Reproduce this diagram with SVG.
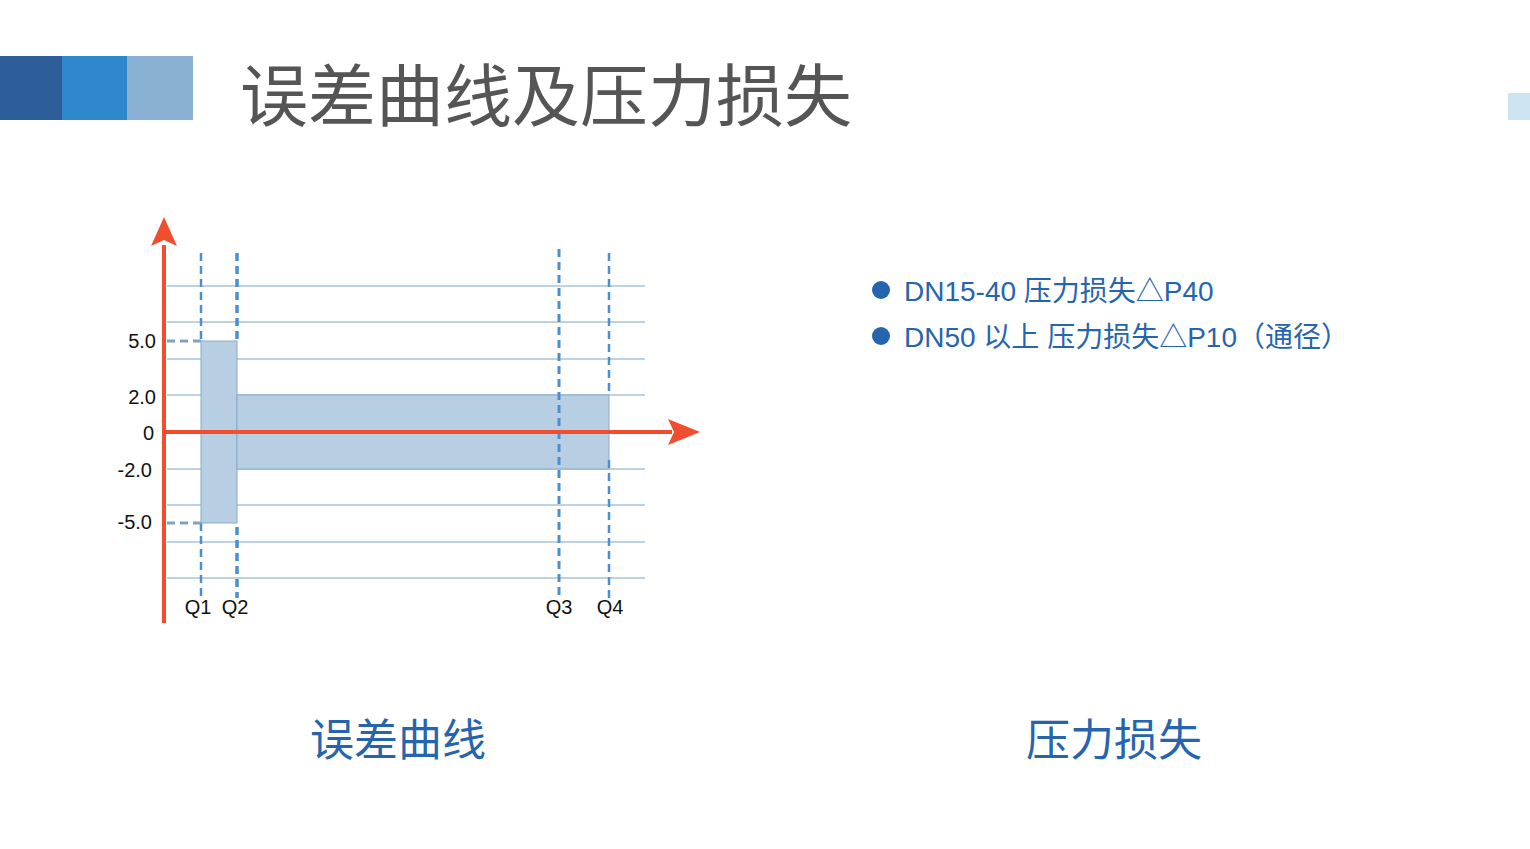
<svg xmlns="http://www.w3.org/2000/svg" width="1530" height="849" viewBox="0 0 1530 849">
<style>
.cjk{font-family:"Liberation Sans","Noto Sans CJK SC",sans-serif}
.ax{font-family:"Liberation Sans",Arial,sans-serif;font-size:20px;fill:#111}
.grid{stroke:#7fa3c8;stroke-width:1}
.dash{stroke:#4a8fd0;stroke-width:2.5;stroke-dasharray:8 5;fill:none}
.blue{fill:#2665ad}
</style>
<rect width="1530" height="849" fill="#fff"/>
<g id="header">
<rect x="0" y="56" width="62" height="64" fill="#2d5d99"/>
<rect x="62" y="56" width="65" height="64" fill="#2f88cc"/>
<rect x="127" y="56" width="66" height="64" fill="#8ab0d4"/>
<rect x="1508" y="93" width="22" height="27" fill="#cde5f3"/>
<text x="240" y="121" class="cjk" font-size="68" fill="#555">误差曲线及压力损失</text>
</g>
<g id="chart">
<g class="grid">
<line x1="167" y1="286" x2="645" y2="286"/><line x1="167" y1="322" x2="645" y2="322"/>
<line x1="167" y1="359" x2="645" y2="359"/><line x1="167" y1="395" x2="645" y2="395"/>
<line x1="167" y1="469" x2="645" y2="469"/><line x1="167" y1="505" x2="645" y2="505"/>
<line x1="167" y1="542" x2="645" y2="542"/><line x1="167" y1="578" x2="645" y2="578"/>
</g>
<rect x="201" y="341" width="36" height="182" fill="#b8cfe3" stroke="#8aa9c8"/>
<rect x="237" y="395" width="372" height="74" fill="#b8cfe3" stroke="#8aa9c8"/>
<g class="dash">
<line x1="201" y1="253" x2="201" y2="341"/><line x1="201" y1="523" x2="201" y2="598"/>
<line x1="237" y1="253" x2="237" y2="341" stroke-width="3.5"/><line x1="237" y1="527" x2="237" y2="598" stroke-width="3.5"/>
<line x1="559" y1="249" x2="559" y2="598" stroke-width="3"/>
<line x1="609" y1="253" x2="609" y2="395"/><line x1="609" y1="460" x2="609" y2="598"/>
<line x1="167" y1="341" x2="201" y2="341" stroke="#7fa3c8" stroke-width="3"/>
<line x1="167" y1="523" x2="201" y2="523" stroke="#7fa3c8" stroke-width="3"/>
</g>
<g fill="#f04e2f" stroke="#f04e2f">
<line x1="164" y1="245" x2="164" y2="623" stroke-width="4"/>
<polygon points="164,217 177,246 164,240 151,246" stroke="none"/>
<line x1="164" y1="432" x2="672" y2="432" stroke-width="4"/>
<polygon points="700,432 668,419 674,432 668,445" stroke="none"/>
</g>
<g class="ax" text-anchor="end">
<text x="156" y="348">5.0</text><text x="156" y="404">2.0</text>
<text x="154" y="440">0</text><text x="152" y="477">-2.0</text><text x="152" y="529">-5.0</text>
</g>
<g class="ax" text-anchor="middle">
<text x="198" y="614">Q1</text><text x="235" y="614">Q2</text>
<text x="559" y="614">Q3</text><text x="610" y="614">Q4</text>
</g>
</g>
<g id="bullets">
<circle cx="881" cy="290" r="9" class="blue"/>
<circle cx="881" cy="336" r="9" class="blue"/>
<text x="904" y="301" class="cjk blue" font-size="28">DN15-40 压力损失△P40</text>
<text x="904" y="347" class="cjk blue" font-size="28">DN50 以上  压力损失△P10（通径）</text>
</g>
<g id="captions" class="cjk blue" font-size="44" text-anchor="middle">
<text x="398" y="756">误差曲线</text>
<text x="1114" y="756">压力损失</text>
</g>
</svg>
